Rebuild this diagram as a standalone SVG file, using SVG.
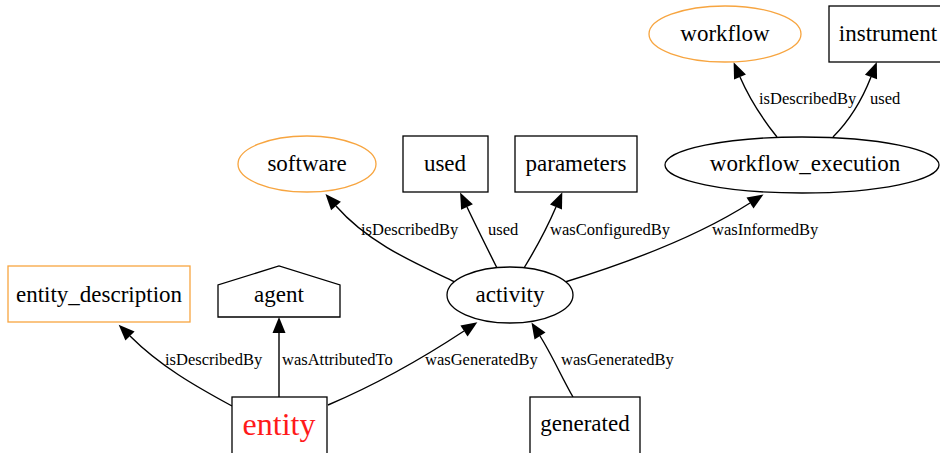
<svg xmlns="http://www.w3.org/2000/svg" width="940" height="453" viewBox="0 0 940 453">
<style>
.n{fill:#fff;stroke:#000;stroke-width:1.3}
.o{fill:#fff;stroke:#f7a540;stroke-width:1.3}
.t{font-family:"Liberation Serif","Times New Roman",serif;font-size:23px;text-anchor:middle;fill:#000}
.e{fill:none;stroke:#000;stroke-width:1.4}
.l{font-family:"Liberation Serif","Times New Roman",serif;font-size:16.5px;fill:#000}
</style>
<defs>
<marker id="a" markerUnits="userSpaceOnUse" markerWidth="17" markerHeight="13" refX="0" refY="6.5" orient="auto" overflow="visible">
<path d="M0,0 L16,6.5 L0,13 z" fill="#000"/>
</marker>
</defs>
<rect width="940" height="453" fill="#fff"/>
<g id="connectors">
<path class="e" marker-end="url(#a)" d="M232,406 C195,386 160,366 130,336"/>
<path class="e" marker-end="url(#a)" d="M279,397 L279,333"/>
<path class="e" marker-end="url(#a)" d="M328,405 C375,385 420,360 464,331"/>
<path class="e" marker-end="url(#a)" d="M573,397 C562,378 552,355 540,336"/>
<path class="e" marker-end="url(#a)" d="M455,282 C420,265 370,245 336,206"/>
<path class="e" marker-end="url(#a)" d="M497,268 C488,250 477,228 467,207"/>
<path class="e" marker-end="url(#a)" d="M524,268 C535,250 547,228 556,207"/>
<path class="e" marker-end="url(#a)" d="M565,282 C630,262 700,235 750,203"/>
<path class="e" marker-end="url(#a)" d="M777,137 C765,122 750,100 740,77"/>
<path class="e" marker-end="url(#a)" d="M833,137 C848,122 862,100 871,77"/>
<text class="l" x="165" y="365">isDescribedBy</text>
<text class="l" x="282" y="365">wasAttributedTo</text>
<text class="l" x="425" y="365">wasGeneratedBy</text>
<text class="l" x="561" y="365">wasGeneratedBy</text>
<text class="l" x="361" y="235">isDescribedBy</text>
<text class="l" x="488" y="235">used</text>
<text class="l" x="550" y="235">wasConfiguredBy</text>
<text class="l" x="712" y="235">wasInformedBy</text>
<text class="l" x="759" y="104">isDescribedBy</text>
<text class="l" x="870" y="104">used</text>
</g>
<g id="entity_description"><rect class="o" x="8" y="266" width="182" height="56"/><text class="t" x="99" y="302">entity_description</text></g>
<g id="agent"><path class="n" d="M218,317 L218,285 L279,266 L340,285 L340,317 Z"/><text class="t" x="279" y="302">agent</text></g>
<g id="entity"><rect class="n" x="232" y="397" width="95" height="58"/><text class="t" x="279" y="435" style="font-size:32px;fill:#ff1a1a">entity</text></g>
<g id="activity"><ellipse class="n" cx="510" cy="295" rx="63" ry="28"/><text class="t" x="510" y="302">activity</text></g>
<g id="generated"><rect class="n" x="530" y="397" width="110" height="58"/><text class="t" x="585" y="431">generated</text></g>
<g id="software"><ellipse class="o" cx="307" cy="164" rx="69" ry="28"/><text class="t" x="307" y="171">software</text></g>
<g id="used"><rect class="n" x="403" y="136" width="85" height="56"/><text class="t" x="445" y="171">used</text></g>
<g id="parameters"><rect class="n" x="515" y="136" width="122" height="56"/><text class="t" x="576" y="171">parameters</text></g>
<g id="workflow_execution"><ellipse class="n" cx="802" cy="165" rx="137" ry="28"/><text class="t" x="805" y="171">workflow_execution</text></g>
<g id="workflow"><ellipse class="o" cx="725" cy="34" rx="76" ry="28"/><text class="t" x="725" y="41">workflow</text></g>
<g id="instrument"><rect class="n" x="829" y="6" width="112" height="56"/><text class="t" x="888" y="41">instrument</text></g>
</svg>
